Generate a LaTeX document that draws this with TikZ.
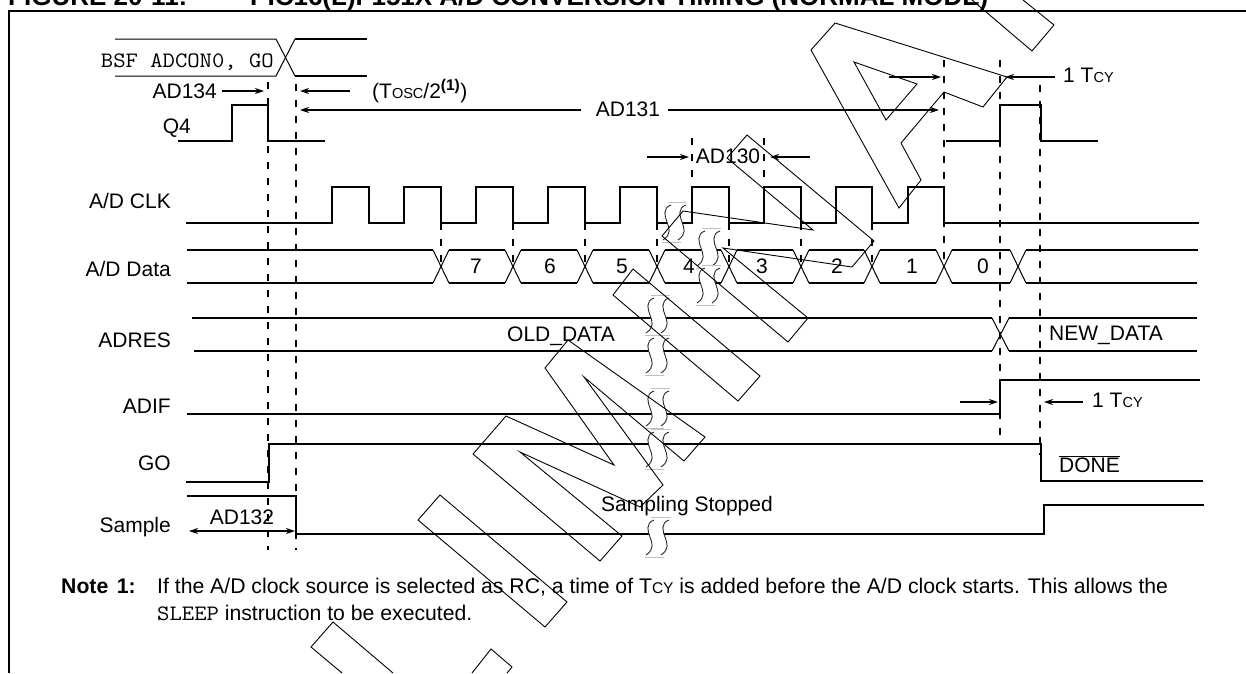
\documentclass[tikz,border=0pt]{standalone}
\usepackage{fontspec}
\setmainfont{Liberation Sans}
\usetikzlibrary{arrows.meta,calc}
\newcommand{\fsz}[1]{\fontsize{#1}{#1}\selectfont}
\newcommand{\smc}[1]{{\fsz{14.5}#1}}
\newcommand{\brkmark}[2]{%
  \fill[white] (#1+4,#2+3) .. controls (#1-5,#2+6) and (#1-2,#2+15) .. (#1,#2+20) .. controls (#1+2,#2+26) and (#1+5,#2+32) .. (#1-4,#2+38)
    -- (#1+11,#2+38) .. controls (#1+20,#2+32) and (#1+17,#2+26) .. (#1+15,#2+20) .. controls (#1+13,#2+15) and (#1+10,#2+6) .. (#1+19,#2+3) -- cycle;
  \draw[breakwave] (#1+4,#2+3) .. controls (#1-5,#2+6) and (#1-2,#2+15) .. (#1,#2+20) .. controls (#1+2,#2+26) and (#1+5,#2+32) .. (#1-4,#2+38);
  \draw[breakwave] (#1+19,#2+3) .. controls (#1+10,#2+6) and (#1+13,#2+15) .. (#1+15,#2+20) .. controls (#1+17,#2+26) and (#1+20,#2+32) .. (#1+11,#2+38);
  \draw[breakedge] (#1+1,#2) -- (#1+20,#2) (#1-5,#2+40) -- (#1+14,#2+40);
}
\tikzset{
  sig/.style={line width=1.5pt,line join=miter},
  thinsig/.style={line width=1pt},
  guide/.style={line width=1.5pt,dash pattern=on 7pt off 9pt},
  dim/.style={line width=1.3pt,-{Stealth[length=9pt,width=6pt]}},
  dimboth/.style={line width=1.3pt,{Stealth[length=9pt,width=6pt]}-{Stealth[length=9pt,width=6pt]}},
  wmark/.style={line width=0.9pt,line join=miter},
  breakwave/.style={line width=0.9pt,black!85},
  breakedge/.style={line width=0.7pt,black!25},
  lab/.style={inner sep=0pt,font=\fsz{21}},
  lableft/.style={lab,anchor=east},
  num/.style={inner sep=0pt,font=\fsz{21}},
  titletext/.style={inner sep=0pt,anchor=base west,font=\bfseries\fsz{26}},
  notetext/.style={inner sep=0pt,anchor=base west,font=\fsz{21.2}},
}
\begin{document}
\begin{tikzpicture}[x=1pt,y=-1pt]
\useasboundingbox (0,0) rectangle (1246,673);
% title
\node[titletext] (t1) at (8,5.5) {FIGURE 20-11:};
\node[titletext] (t2) at (250,5.5) {PIC16(L)F151X A/D CONVERSION TIMING (NORMAL MODE)};
% frame
\draw[line width=1.7pt] (9,673) -- (9,11) -- (1246,11);
% guides
\draw[guide] (268,82) -- (268,550);
\draw[guide] (296,84) -- (296,550);
\draw[guide] (944,60) -- (944,262);
\draw[guide] (1000,60) -- (1000,445);
\draw[guide] (1040,85) -- (1040,455);
\draw[guide] (692,138) -- (692,187);
\draw[guide] (764,138) -- (764,187);
\foreach \gx in {441,513,585,657,729,801,872}
  \draw[guide] (\gx,223) -- (\gx,262);
% BSF bus
\draw[thinsig] (115,39) -- (276,39) -- (295,76);
\draw[sig] (295,76) -- (367,76);
\draw[thinsig] (115,76) -- (276,76) -- (295,39);
\draw[sig] (295,39) -- (367,39);
\node[inner sep=0pt,anchor=base east] (bsf) at (274,67) {\scalebox{1.09}[1]{\ttfamily\fsz{22}BSF ADCON0, GO}};
% Q4
\draw[sig] (178,141) -- (232,141) -- (232,105) -- (268,105) -- (268,141) -- (325,141);
\draw[sig] (946,141) -- (1000,141) -- (1000,105) -- (1041,105) -- (1041,141) -- (1098,141);
\node[lableft] (q4) at (191,128) {Q4};
% top dimensions
\node[lableft] (ad134) at (217,91) {AD134};
\coordinate (a134s) at (222,91); \coordinate (a134e) at (264,91);
\draw[dim] (a134s) -- (a134e);
\coordinate (toscS) at (350,91); \coordinate (toscE) at (300,91);
\draw[dim] (toscS) -- (toscE);
\node[lab,anchor=west] (tosc) at (372,91) {(T\smc{OSC}/2\textsuperscript{\fsz{15.5}\bfseries (1)})};
\node[lab] (ad131) at (628,109) {AD131};
\coordinate (a131l) at (581,110); \coordinate (a131le) at (300,110);
\coordinate (a131r) at (668,110); \coordinate (a131re) at (939,110);
\draw[dim] (a131l) -- (a131le);
\draw[dim] (a131r) -- (a131re);
\node[lab] (ad130) at (728,156) {AD130};
\coordinate (a130l) at (647,157); \coordinate (a130le) at (689,157);
\coordinate (a130r) at (810,157); \coordinate (a130re) at (770,157);
\draw[dim] (a130l) -- (a130le);
\draw[dim] (a130r) -- (a130re);
\coordinate (tcyl) at (889,77); \coordinate (tcyle) at (941,77);
\coordinate (tcyr) at (1055,77); \coordinate (tcyre) at (1005,77);
\draw[dim] (tcyl) -- (tcyle);
\draw[dim] (tcyr) -- (tcyre);
\node[lab,anchor=west] (tcy1) at (1063,75) {1 T\smc{CY}};
% A/D CLK
\node[lableft] (clk) at (171,201) {A/D CLK};
\draw[sig] (186,223) -- (332,223) -- (332,187) -- (369,187) -- (369,223) -- (404,223) -- (404,187) -- (441,187) -- (441,223)
  -- (476,223) -- (476,187) -- (513,187) -- (513,223) -- (548,223) -- (548,187) -- (585,187) -- (585,223)
  -- (620,223) -- (620,187) -- (657,187) -- (657,223) -- (692,223) -- (692,187) -- (729,187) -- (729,223)
  -- (764,223) -- (764,187) -- (801,187) -- (801,223) -- (836,223) -- (836,187) -- (872,187) -- (872,223)
  -- (908,223) -- (908,187) -- (944,187) -- (944,223) -- (1199,223);
% A/D Data
\node[lableft] (data) at (171,269) {A/D Data};
\draw[sig] (187,250) -- (433,250);
\draw[sig] (187,283) -- (433,283);
\foreach \ca/\cb in {441/513,513/585,585/657,657/729,729/801,801/872,872/944,944/1018}{
  \draw[sig] (\ca+8,250) -- (\cb-8,250);
  \draw[sig] (\ca+8,283) -- (\cb-8,283);
}
\foreach \cc in {441,513,585,657,729,801,872,944,1018}{
  \draw[thinsig] (\cc-8,250) -- (\cc+8,283);
  \draw[thinsig] (\cc-8,283) -- (\cc+8,250);
}
\draw[sig] (1026,250) -- (1198,250);
\draw[sig] (1026,283) -- (1197,283);
\node[num] (n7) at (476,266) {7};
\node[num] (n6) at (550,266) {6};
\node[num] (n5) at (622,266) {5};
\node[num] (n4) at (689,266) {4};
\node[num] (n3) at (762,266) {3};
\node[num] (n2) at (837,266) {2};
\node[num] (n1) at (912,266) {1};
\node[num] (n0) at (983,266) {0};
% ADRES
\node[lableft] (adres) at (171,340) {ADRES};
\draw[sig] (192,318) -- (992,318);
\draw[sig] (194,351) -- (992,351);
\draw[thinsig] (992,318) -- (1009,351);
\draw[thinsig] (992,351) -- (1009,318);
\draw[sig] (1009,318) -- (1197,318);
\draw[sig] (1009,351) -- (1197,351);
\node[lab,anchor=west] (old) at (507,336) {OLD\_DATA};
\node[lab,anchor=west] (new) at (1049,335) {NEW\_DATA};
% ADIF
\node[lableft] (adif) at (171,406) {ADIF};
\draw[sig] (187,414) -- (1000,414) -- (1000,380) -- (1200,380);
\coordinate (ifl) at (960,402); \coordinate (ifle) at (998,402);
\coordinate (ifr) at (1083,402); \coordinate (ifre) at (1044,402);
\draw[dim] (ifl) -- (ifle);
\draw[dim] (ifr) -- (ifre);
\node[lab,anchor=west] (tcy2) at (1092,400) {1 T\smc{CY}};
% GO
\node[lableft] (go) at (171,463) {GO};
\draw[sig] (186,482) -- (269,482) -- (269,444) -- (1041,444) -- (1041,481) -- (1203,481);
\node[lab,anchor=west] (done) at (1059,465) {DONE};
\draw[line width=1.3pt] ($(done.north west)+(0,-1)$) -- ($(done.north east)+(0,-1)$);
% Sample
\node[lableft] (sample) at (171,527) {Sample};
\draw[sig] (187,496) -- (296,496) -- (296,534) -- (1044,534) -- (1044,505) -- (1204,505);
\node[lab] (ad132) at (242,517) {AD132};
\coordinate (s132l) at (189,531); \coordinate (s132r) at (295,531);
\draw[dimboth] (s132l) -- (s132r);
\node[lab] (stop) at (687,506) {Sampling Stopped};
% note
\node[notetext,font=\bfseries\fsz{21.2}] (note) at (61,593) {Note\hspace{0.4em}1:};
\node[notetext] (n1l) at (157,593) {If the A/D clock source is selected as RC, a time of T{\fsz{15.5}CY} is added before the A/D clock starts. This allows the};
\node[notetext] (n2l) at (157,620) {\scalebox{1.09}[1]{\ttfamily\fsz{22}SLEEP} instruction to be executed.};
% break marks
\brkmark{667}{202}
\brkmark{701}{228}
\brkmark{701}{265}
\brkmark{650}{295}
\brkmark{650}{335}
\brkmark{650}{388}
\brkmark{650}{429}
\brkmark{650}{517}
% watermark
\draw[wmark] (972,0) -- (1032,51) -- (1054,25) -- (1023,0);
\draw[wmark] (835,23) -- (811,50) -- (899,208) -- (921,180) -- (901,143) -- (944,92) -- (983,107) -- (1007,77) -- cycle;
\draw[wmark] (854,62) -- (917,84) -- (886,120) -- cycle;
\draw[wmark] (747,135) -- (727,158) -- (813,230) -- (683,211) -- (662,236) -- (788,342) -- (808,318) -- (723,248) -- (852,267) -- (874,241) -- cycle;
\draw[wmark] (633,269) -- (613,295) -- (738,401) -- (760,376) -- cycle;
\draw[wmark] (545,368) -- (568,340) -- (705,437) -- (684,461) -- (584,377) -- (663,485) -- (640,507) -- (520,452) -- (622,536) -- (600,561) -- (473,454) -- (506,416) -- (614,465) -- cycle;
\draw[wmark] (440,495) -- (567,602) -- (545,627) -- (418,520) -- cycle;
\draw[wmark] (342,673) -- (311,647) -- (333,622) -- (393,673);
\draw[wmark] (472,673) -- (491,649) -- (512,667) -- (507,673);
\end{tikzpicture}
\end{document}
